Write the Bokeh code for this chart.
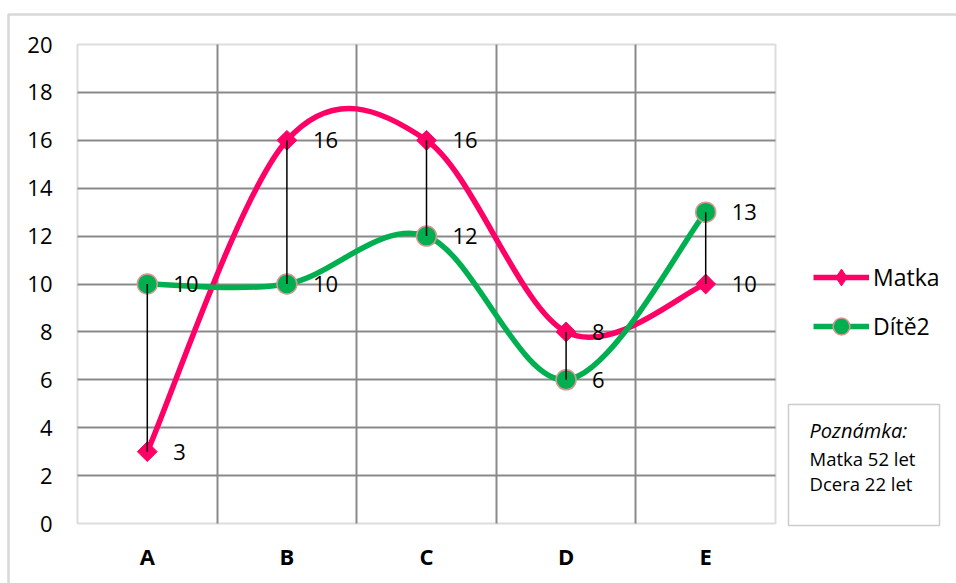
import math
from bokeh.plotting import figure
from bokeh.models import (Range1d, FixedTicker, ColumnDataSource, LabelSet, Legend,
                          LegendItem, BoxAnnotation, Label)
from bokeh.core.properties import value
from bokeh.embed import file_html
from bokeh.resources import INLINE

# ---- data ----
categories = ["A", "B", "C", "D", "E"]
matka = [3, 16, 16, 8, 10]
dite2 = [10, 10, 12, 6, 13]
y_ticks = [0, 2, 4, 6, 8, 10, 12, 14, 16, 18, 20]
series_names = ["Matka", "Dítě2"]
note_lines = ["Poznámka:", "Matka 52 let", "Dcera 22 let"]

FONT = "Open Sans"
PINK = "#FF0066"
GREEN = "#00B050"
GRID = "#8A8A8A"

# ---- layout geometry (canvas pixels) ----
W, H = 956, 583
PL, PR, PT, PB = 77, 775, 44, 523          # plot area edges
n = len(categories)
xs = list(range(1, n + 1))
x_lo, x_hi = 0.5, n + 0.5
y_lo, y_hi = y_ticks[0], y_ticks[-1]
ppx = (PR - PL) / (x_hi - x_lo)
ppy = (PB - PT) / (y_hi - y_lo)
xr = Range1d(x_lo - PL / ppx, x_hi + (W - PR) / ppx)
yr = Range1d(y_lo - (H - PB) / ppy, y_hi + PT / ppy)


def smooth(xv, yv):
    """Excel-like smoothed line: cubic Bezier segments (Catmull-Rom, 1/6)."""
    m = len(xv)
    out = dict(x0=[], y0=[], x1=[], y1=[], cx0=[], cy0=[], cx1=[], cy1=[])
    for i in range(m - 1):
        ip, inx = max(i - 1, 0), min(i + 2, m - 1)
        out["x0"].append(xv[i]); out["y0"].append(yv[i])
        out["x1"].append(xv[i + 1]); out["y1"].append(yv[i + 1])
        out["cx0"].append(xv[i] + (xv[i + 1] - xv[ip]) / 6)
        out["cy0"].append(yv[i] + (yv[i + 1] - yv[ip]) / 6)
        out["cx1"].append(xv[i + 1] - (xv[inx] - xv[i]) / 6)
        out["cy1"].append(yv[i + 1] - (yv[inx] - yv[i]) / 6)
    return ColumnDataSource(out)


p = figure(width=W, height=H, output_backend="svg", toolbar_location=None,
           x_range=xr, y_range=yr,
           min_border_left=0, min_border_top=0, min_border_right=0, min_border_bottom=0)
p.background_fill_color = "white"
p.border_fill_color = "white"
p.outline_line_color = None

# axes at the plot-area edges
p.xaxis.fixed_location = y_lo
p.yaxis.fixed_location = x_lo
p.xaxis.ticker = FixedTicker(ticks=xs)
p.xaxis.major_label_overrides = {x: c for x, c in zip(xs, categories)}
p.yaxis.ticker = FixedTicker(ticks=y_ticks)
for ax in (p.xaxis[0], p.yaxis[0]):
    ax.axis_line_color = None
    ax.major_tick_line_color = None
    ax.minor_tick_line_color = None
    ax.major_tick_out = 0
    ax.major_tick_in = 0
    ax.major_label_text_font = FONT
    ax.major_label_text_font_size = "22px"
    ax.major_label_text_color = "black"
p.xaxis.major_label_text_font_style = "bold"
p.xaxis.major_label_standoff = 17
p.yaxis.major_label_standoff = 25

# grid limited to the plot area
p.xgrid.ticker = FixedTicker(ticks=[x + 0.5 for x in xs[:-1]])
p.ygrid.ticker = FixedTicker(ticks=y_ticks[1:-1])
p.xgrid.bounds = (x_lo, x_hi)
p.ygrid.bounds = (y_lo, y_hi)
for g in (p.xgrid[0], p.ygrid[0]):
    g.grid_line_color = GRID
    g.grid_line_width = 2
try:
    p.xgrid[0].cross_bounds = (y_lo, y_hi)
    p.ygrid[0].cross_bounds = (x_lo, x_hi)
except Exception:
    for kw in (dict(right=x_lo), dict(left=x_hi), dict(top=y_lo), dict(bottom=y_hi)):
        p.add_layout(BoxAnnotation(fill_color="white", fill_alpha=1, line_color=None,
                                   level="underlay", **kw))

# plot-area border
p.add_layout(BoxAnnotation(left=x_lo, right=x_hi, bottom=y_lo, top=y_hi, fill_alpha=0,
                           line_color=GRID, line_width=2, level="underlay"))

# outer chart border (left/top edges visible)
p.add_layout(BoxAnnotation(left=8, right=W + 50, top=H - 14, bottom=-50,
                           left_units="screen", right_units="screen",
                           top_units="screen", bottom_units="screen",
                           fill_alpha=0, line_color="#7F7F7F", line_width=2.5, level="underlay"))

# series
src_m = ColumnDataSource(dict(x=xs, y=matka, t=[str(v) for v in matka]))
src_d = ColumnDataSource(dict(x=xs, y=dite2, t=[str(v) for v in dite2]))

bz_m = p.bezier(x0="x0", y0="y0", x1="x1", y1="y1", cx0="cx0", cy0="cy0", cx1="cx1", cy1="cy1",
                source=smooth(xs, matka), line_color=PINK, line_width=5.5)
bz_d = p.bezier(x0="x0", y0="y0", x1="x1", y1="y1", cx0="cx0", cy0="cy0", cx1="cx1", cy1="cy1",
                source=smooth(xs, dite2), line_color=GREEN, line_width=5.5)
sc_m = p.scatter("x", "y", source=src_m, marker="square", angle=math.pi / 4, size=14,
                 fill_color=PINK, line_color=PINK, line_width=1)
sc_d = p.scatter("x", "y", source=src_d, marker="circle", size=20,
                 fill_color=GREEN, line_color="#D99694", line_width=1.5)
# legend key symbol for Matka (diamond, used only by the legend)
key_m = p.scatter("x", "y", source=src_m, marker="diamond", size=18,
                  fill_color=PINK, line_color=PINK, line_width=1, visible=False)

# high-low lines
p.segment(x0=xs, y0=matka, x1=xs, y1=dite2, line_color="black", line_width=1.5)

# data labels
for src in (src_m, src_d):
    p.add_layout(LabelSet(x="x", y="y", text="t", source=src, x_offset=26,
                          text_baseline="middle", text_align="left",
                          text_font=value(FONT), text_font_size="22px", text_color="black"))

# legend
legend = Legend(items=[LegendItem(label=series_names[0], renderers=[bz_m, key_m]),
                       LegendItem(label=series_names[1], renderers=[bz_d, sc_d])],
                location=(813, H - 347), padding=0, margin=0, border_line_color=None,
                background_fill_alpha=0, glyph_width=56, glyph_height=42,
                label_standoff=4, spacing=7, click_policy="none",
                label_text_font=FONT, label_text_font_size="23px", label_text_color="black")
p.add_layout(legend)

# note box
p.add_layout(BoxAnnotation(left=788, right=939, top=H - 404, bottom=H - 525,
                           left_units="screen", right_units="screen",
                           top_units="screen", bottom_units="screen",
                           fill_color="white", fill_alpha=1, line_color="#595959", line_width=1.5))
for i, (txt, yy) in enumerate(zip(note_lines, [430, 458, 483])):
    p.add_layout(Label(x=809, y=H - yy, x_units="screen", y_units="screen", text=txt,
                       text_baseline="middle", text_font=FONT,
                       text_font_size="20px" if i == 0 else "18.5px",
                       text_font_style="italic" if i == 0 else "normal", text_color="black"))

open("out.html", "w").write(file_html(p, INLINE))
